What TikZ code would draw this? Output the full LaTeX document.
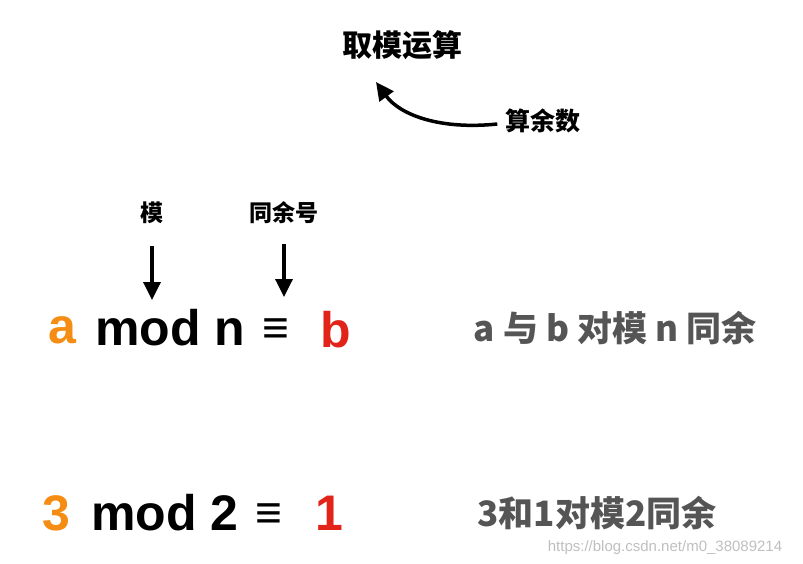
\documentclass[tikz,border=0pt]{standalone}
\usepackage{fontspec}
\setmainfont{Liberation Sans}
\newfontfamily\cjk{Noto Sans CJK SC}
\usetikzlibrary{arrows.meta}
\definecolor{orng}{RGB}{245,140,20}
\definecolor{rd}{RGB}{225,35,25}
\definecolor{gry}{RGB}{85,85,85}
\tikzset{
  t/.style={inner sep=0pt,font=\bfseries\cjk},
  big/.style={inner sep=0pt,font=\fontsize{50}{56}\selectfont\bfseries},
  eqs/.style={inner sep=0pt,font=\fontsize{46}{52}\selectfont\bfseries},
  gr/.style={inner sep=0pt,text=gry,font=\fontsize{35}{40}\selectfont\bfseries\cjk},
  arr/.style={line width=3.5pt,-{Triangle[length=18pt,width=17pt]}}
}
\begin{document}
\begin{tikzpicture}[x=1pt,y=-1pt]
\useasboundingbox (0,0) rectangle (803,564);
\node[t,font=\fontsize{30}{34}\selectfont\bfseries\cjk] (title) at (402,45) {取模运算};
\node[t,font=\fontsize{25}{28}\selectfont\bfseries\cjk] (rem) at (543,121) {算余数};
\coordinate (tip) at (376,82);
\draw[arr] (rem.west) ++(-8,3) .. controls (440,130) and (400,115) .. (tip);
\node[t,font=\fontsize{23}{26}\selectfont\bfseries\cjk] (mo) at (152,213) {模};
\node[t,font=\fontsize{23}{26}\selectfont\bfseries\cjk] (tong) at (284,213) {同余号};
\coordinate (m2) at (152,300);
\coordinate (t2) at (284,297);
\draw[arr] (mo.south) ++(0,22) -- (m2);
\draw[arr] (tong.south) ++(0,20) -- (t2);
\node[big,text=orng] (a) at (62,330) {a};
\node[big] (modn) at (170,328) {mod n};
\node[eqs] (eq) at (276,331) {≡};
\node[big,text=rd] (b) at (336,330) {b};
\node[gr] (s1) at (615,328) {a 与 b 对模 n 同余};
\node[big,text=orng] (three) at (56,513) {3};
\node[big] (mod2) at (165,513) {mod 2};
\node[eqs] (eq2) at (269,516) {≡};
\node[big,text=rd] (one) at (329,513) {1};
\node[gr] (s2) at (597,513) {3和1对模2同余};
\node[inner sep=0pt,text=black!25,font=\fontsize{15}{17}\selectfont] (wm) at (665,548) {https://blog.csdn.net/m0\_38089214};
\end{tikzpicture}
\end{document}
